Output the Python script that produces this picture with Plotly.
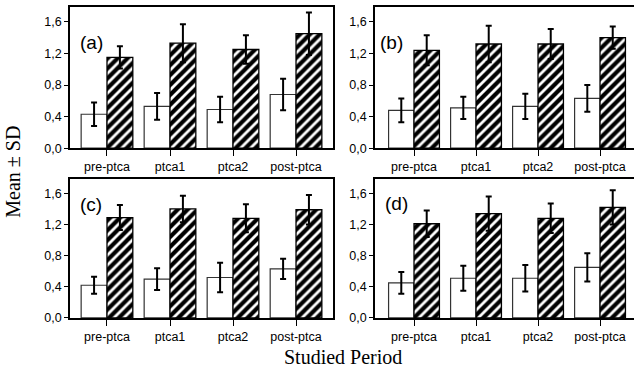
import plotly.graph_objects as go

categories = ["pre-ptca", "ptca1", "ptca2", "post-ptca"]
ytick_vals = [0.0, 0.4, 0.8, 1.2, 1.6]
ytick_text = ["0,0", "0,4", "0,8", "1,2", "1,6"]

# Panel (a)
a_open_mean = [0.43, 0.53, 0.49, 0.68]
a_open_sd = [0.15, 0.17, 0.16, 0.20]
a_hatch_mean = [1.15, 1.33, 1.25, 1.45]
a_hatch_sd = [0.14, 0.24, 0.18, 0.27]
# Panel (b)
b_open_mean = [0.48, 0.51, 0.53, 0.63]
b_open_sd = [0.15, 0.14, 0.16, 0.17]
b_hatch_mean = [1.24, 1.32, 1.32, 1.40]
b_hatch_sd = [0.19, 0.23, 0.19, 0.14]
# Panel (c)
c_open_mean = [0.42, 0.50, 0.52, 0.63]
c_open_sd = [0.11, 0.14, 0.19, 0.13]
c_hatch_mean = [1.29, 1.40, 1.28, 1.39]
c_hatch_sd = [0.16, 0.17, 0.18, 0.19]
# Panel (d)
d_open_mean = [0.45, 0.51, 0.51, 0.65]
d_open_sd = [0.14, 0.16, 0.17, 0.18]
d_hatch_mean = [1.21, 1.34, 1.28, 1.42]
d_hatch_sd = [0.17, 0.22, 0.19, 0.22]

panel_labels = ["(a)", "(b)", "(c)", "(d)"]

W, H = 634, 376
panels = [
    dict(data=(a_open_mean, a_open_sd, a_hatch_mean, a_hatch_sd), xd=[70 / W, 333 / W], yd=[1 - 151 / H, 1 - 7 / H],
         xr=[-0.587, 3.587], mirror_y=True, lab=(0.03, 0.75)),
    dict(data=(b_open_mean, b_open_sd, b_hatch_mean, b_hatch_sd), xd=[375 / W, 1.0], yd=[1 - 151 / H, 1 - 7 / H],
         xr=[-0.629, 3.548], mirror_y=False, lab=(0.012, 0.75)),
    dict(data=(c_open_mean, c_open_sd, c_hatch_mean, c_hatch_sd), xd=[70 / W, 333 / W], yd=[1 - 324 / H, 1 - 182 / H],
         xr=[-0.587, 3.587], mirror_y=True, lab=(0.03, 0.815)),
    dict(data=(d_open_mean, d_open_sd, d_hatch_mean, d_hatch_sd), xd=[375 / W, 1.0], yd=[1 - 324 / H, 1 - 182 / H],
         xr=[-0.629, 3.548], mirror_y=False, lab=(0.031, 0.82)),
]

fig = go.Figure()
tick_font = dict(family="Liberation Sans, Arial, sans-serif", size=12.5, color="black")
layout = {}
annotations = []
xpos = list(range(len(categories)))

for i, p in enumerate(panels):
    n = "" if i == 0 else str(i + 1)
    xa, ya = "x" + n, "y" + n
    om, osd, hm, hsd = p["data"]
    fig.add_trace(go.Bar(
        x=xpos, y=om, xaxis=xa, yaxis=ya, showlegend=False,
        marker=dict(color="white", line=dict(color="#333333", width=1.2)),
        error_y=dict(type="data", array=osd, visible=True, color="black", thickness=2, width=3),
    ))
    fig.add_trace(go.Bar(
        x=xpos, y=hm, xaxis=xa, yaxis=ya, showlegend=False,
        marker=dict(color="white", line=dict(color="black", width=1.3),
                    pattern=dict(shape="/", fillmode="replace", fgcolor="#000000", fgopacity=1,
                                 bgcolor="#ffffff", size=7, solidity=0.6)),
        error_y=dict(type="data", array=hsd, visible=True, color="black", thickness=2, width=3),
    ))
    layout["xaxis" + n] = dict(
        domain=p["xd"], anchor=ya, range=p["xr"], tickvals=xpos, ticktext=categories,
        showline=True, linecolor="black", linewidth=1.5, mirror=True,
        ticks="outside", ticklen=6, tickcolor="black", tickwidth=1.2,
        showgrid=False, zeroline=False, tickfont=tick_font, fixedrange=True,
    )
    layout["yaxis" + n] = dict(
        domain=p["yd"], anchor=xa, range=[0, 1.79], tickvals=ytick_vals, ticktext=ytick_text,
        showline=True, linecolor="black", linewidth=1.5, mirror=p["mirror_y"],
        ticks="outside", ticklen=4, tickcolor="black", tickwidth=1.2,
        showgrid=False, zeroline=False, tickfont=tick_font, fixedrange=True,
    )
    annotations.append(dict(
        text=panel_labels[i], xref=xa + " domain", yref=ya + " domain",
        x=p["lab"][0], y=p["lab"][1], xanchor="left", yanchor="middle", showarrow=False,
        font=dict(family="Liberation Sans, Arial, sans-serif", size=19, color="black"),
    ))

annotations.append(dict(
    text="Mean ± SD", xref="paper", yref="paper", x=13 / W, y=1 - 175 / H,
    textangle=-90, showarrow=False, xanchor="center", yanchor="middle",
    font=dict(family="Liberation Serif, Times New Roman, serif", size=20, color="black"),
))
annotations.append(dict(
    text="Studied Period", xref="paper", yref="paper", x=343 / W, y=1 - 364 / H,
    showarrow=False, xanchor="center", yanchor="middle",
    font=dict(family="Liberation Serif, Times New Roman, serif", size=20, color="black"),
))

fig.update_layout(
    width=W, height=H, autosize=False,
    margin=dict(l=0, r=0, t=0, b=0),
    paper_bgcolor="white", plot_bgcolor="white",
    barmode="group", bargap=0.18, bargroupgap=0,
    annotations=annotations,
    **layout,
)

fig.write_html(
    "out.html",
    config={"displayModeBar": False},
    post_script="document.body.style.margin='0';document.body.style.padding='0';document.body.style.overflow='hidden';",
)
